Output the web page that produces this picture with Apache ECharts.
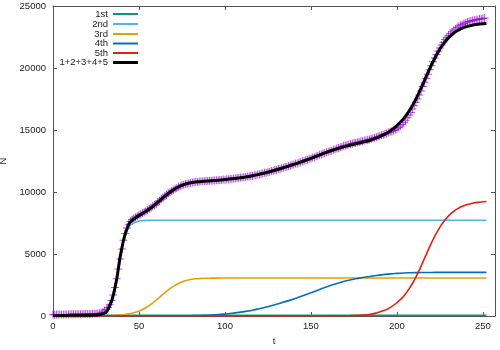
<!DOCTYPE html>
<html><head><meta charset="utf-8">
<script src="https://cdn.jsdelivr.net/npm/echarts@6/dist/echarts.min.js"></script>
<style>html,body{margin:0;padding:0;background:#fff}#c{width:500px;height:350px}</style>
</head><body><div id="c"></div>
<script>
// fit curves sampled every 4 days
const tFit = [0,4,8,12,16,20,24,28,32,36,40,44,48,52,56,60,64,68,72,76,80,84,88,92,96,100,104,108,112,116,120,124,128,132,136,140,144,148,152,156,160,164,168,172,176,180,184,188,192,196,200,204,208,212,216,220,224,228,232,236,240,244,248,252];
const first = [30,40,50,55,60,60,60,60,60,60,60,60,60,60,60,60,60,60,60,60,60,60,60,60,60,60,60,60,60,60,60,60,60,60,60,60,60,60,60,60,60,60,60,60,60,60,60,60,60,60,60,60,60,60,60,60,60,60,60,60,60,60,60,60];
const second = [0,0,0,0,0,5,20,80,450,2150,5300,7150,7560,7690,7715,7720,7720,7720,7720,7720,7720,7720,7720,7720,7720,7720,7720,7720,7720,7720,7720,7720,7720,7720,7720,7720,7720,7720,7720,7720,7720,7720,7720,7720,7720,7720,7720,7720,7720,7720,7720,7720,7720,7720,7720,7720,7720,7720,7720,7720,7720,7720,7720,7720];
const third = [0,0,0,0,0,0,0,0,20,45,90,170,300,520,850,1280,1760,2200,2560,2800,2940,3010,3040,3052,3058,3062,3063,3064,3064,3064,3064,3064,3064,3064,3064,3064,3064,3064,3064,3064,3064,3064,3064,3064,3064,3064,3064,3064,3064,3064,3064,3064,3064,3064,3064,3064,3064,3064,3064,3064,3064,3064,3064,3064];
const fourth = [0,0,0,0,0,0,0,0,0,0,0,0,0,0,0,0,0,0,5,10,20,35,50,75,110,160,220,290,370,470,590,720,870,1030,1200,1380,1570,1770,1980,2190,2400,2580,2740,2880,3000,3100,3190,3270,3340,3400,3440,3470,3490,3502,3510,3514,3516,3518,3520,3520,3520,3520,3520,3520];
const fifth = [0,0,0,0,0,0,0,0,0,0,0,0,0,0,0,0,0,0,0,0,0,0,0,0,0,0,0,0,0,0,0,0,0,0,0,0,0,0,0,0,5,8,14,25,42,71,122,240,420,680,1080,1620,2400,3425,4650,5875,6940,7763,8338,8714,8949,9093,9178,9228];

// observed daily values, day 0..251
const observed = [
110,110,115,115,120,120,125,125,130,130,135,135,140,140,145,145,150,150,155,155,160,165,170,175,180,190,200,220,
260,330,420,520,680,900,1250,1700,2300,3000,3800,4600,5400,6100,6650,7100,7400,7620,7780,7880,7960,8040,8120,
8200,8290,8370,8440,8540,8640,8720,8850,8960,9040,
9190,9290,9440,9530,9660,9750,9890,9970,10080,10150,
10270,10330,10420,10460,10540,10580,10640,10660,10710,10730,
10770,10780,10820,10810,10850,10840,10870,10860,10890,10880,
10910,10900,10930,10920,10950,10940,10970,10970,11000,10990,
11030,11020,11060,11050,11090,11090,11130,11120,11170,11160,
11200,11200,11250,11250,11300,11300,11360,11360,11420,11420,
11480,11490,11550,11550,11620,11630,11690,11700,11770,11780,
11850,11860,11930,11950,12020,12030,12100,12120,12190,12210,
12290,12300,12380,12400,12480,12500,12580,12600,12680,12700,
12790,12810,12890,12920,13000,13020,13100,13130,13210,13240,
13310,13330,13400,13420,13510,13550,13600,13650,13720,13750,
13800,13830,13880,13900,13950,13970,14020,14040,14090,14100,
14150,14170,14220,14240,14290,14330,14380,14420,14480,14520,
14580,14620,14680,14720,14790,14830,14900,14960,15030,15100,
15200,15320,15450,15600,15780,15990,16200,16420,16700,16950,
17240,17500,17830,18150,18500,18820,19160,19500,19850,20180,
20500,20800,21090,21380,21620,21850,22070,22290,22460,22620,
22780,22920,23040,23150,23260,23370,23440,23510,23580,23650,
23700,23740,23790,23830,23860,23890,23920,23950,23980,24000,
24030];

const xTicks = [0,50,100,150,200,250];
const yTicks = [0,5000,10000,15000,20000,25000];
const names = ['1st','2nd','3rd','4th','5th','1+2+3+4+5'];
const colors = ['#009E73','#56B4E9','#E69F00','#0072B2','#E51E10','#000000'];

const total = tFit.map((t,i)=>first[i]+second[i]+third[i]+fourth[i]+fifth[i]);
const comps = [first,second,third,fourth,fifth,total];

const font = 'Liberation Sans, Arial, sans-serif';
const axisCol = '#555';
const pair = arr => tFit.map((t,i)=>[t,arr[i]]);

const series = [{
  type:'scatter', name:'data', data: observed.map((v,i)=>[i,v]),
  symbol:'path://M0,3.5h8v1h-8zM3.5,0h1v8h-1z', symbolSize:8,
  itemStyle:{color:'#9400D3', opacity:0.7}, silent:true, z:1, animation:false
}];
comps.forEach((arr,k)=>{
  series.push({type:'line', name:names[k], data:pair(arr), showSymbol:false, smooth:0.5,
    lineStyle:{color:colors[k], width: k===5?3:1.6}, itemStyle:{color:colors[k]},
    z: k===5?4:2, animation:false});
});

const rowCenters = [14,24,34,43.5,53,62.5];
const legends = names.map((n,k)=>({
  data:[n], orient:'vertical', align:'right', right:362, top: rowCenters[k]-5,
  padding:0, itemWidth:25, itemHeight: k===5?3:2, icon:'rect', selectedMode:false,
  textStyle:{fontFamily:font, fontSize:9.5, color:'#222', lineHeight:10}
}));

const plain = v => String(v);
const baseX = {type:'value', min:0, max:257, splitLine:{show:false},
  axisLine:{show:true, onZero:false, lineStyle:{color:axisCol, width:1}},
  axisTick:{show:true, inside:true, length:4, customValues:xTicks, lineStyle:{color:axisCol}}};
const baseY = {type:'value', min:0, max:25000, interval:5000, splitLine:{show:false},
  axisLine:{show:true, onZero:false, lineStyle:{color:axisCol, width:1}},
  axisTick:{show:true, inside:true, length:4, customValues:yTicks, lineStyle:{color:axisCol}}};

const chart = echarts.init(document.getElementById('c'), null, {renderer:'canvas'});
chart.setOption({
  animation:false,
  backgroundColor:'#fff',
  grid:{left:53, right:5, top:6, bottom:34, containLabel:false, outerBoundsMode:'none'},
  legend: legends,
  xAxis:[
    Object.assign({}, baseX, {position:'bottom', name:'t', nameLocation:'middle', nameGap:20,
      nameTextStyle:{fontFamily:font, fontSize:9.5, color:'#222'},
      axisLabel:{show:true, margin:5, customValues:xTicks, formatter:plain, fontFamily:font, fontSize:9.5, color:'#222'}}),
    Object.assign({}, baseX, {position:'top', axisLabel:{show:false}})
  ],
  yAxis:[
    Object.assign({}, baseY, {position:'left', name:'N', nameLocation:'middle', nameGap:42, nameRotate:90,
      nameTextStyle:{fontFamily:font, fontSize:9.5, color:'#222'},
      axisLabel:{show:true, margin:7, customValues:yTicks, formatter:plain, fontFamily:font, fontSize:9.5, color:'#222'}}),
    Object.assign({}, baseY, {position:'right', axisLabel:{show:false}})
  ],
  series: series
});
</script></body></html>
